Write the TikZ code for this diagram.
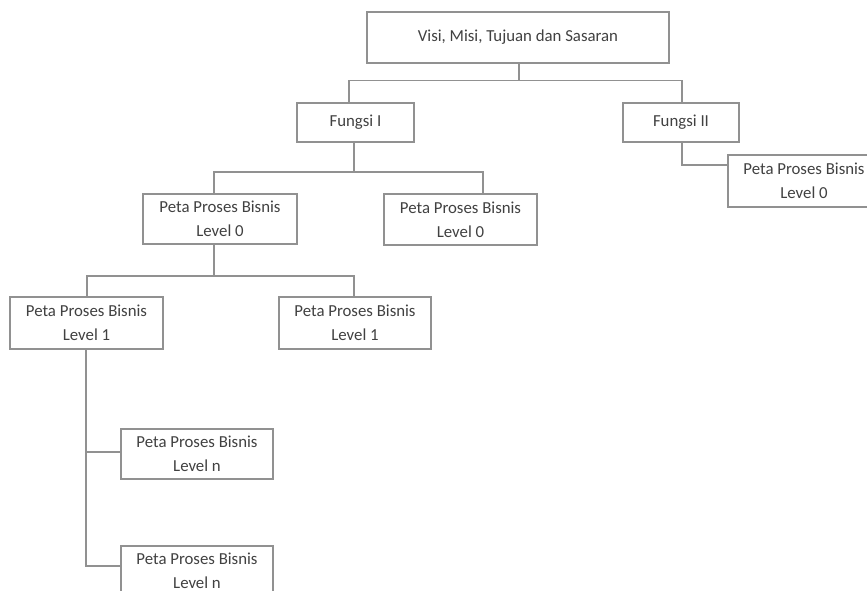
\documentclass[tikz,border=0pt]{standalone}
\usepackage{fontspec}
\setmainfont{Carlito}
\definecolor{linegray}{RGB}{145,145,145}
\definecolor{textgray}{RGB}{65,65,65}
\begin{document}
\begin{tikzpicture}[x=1pt,y=-1pt,
  box/.style={draw=linegray,line width=1.3pt,fill=white,inner sep=0pt,
    align=center,text=textgray,font=\fontsize{16.8}{24}\selectfont},
  link/.style={draw=linegray,line width=1.3pt}]
\useasboundingbox (0,0) rectangle (867,591);
\clip (0,0) rectangle (867,591);
\fill[white] (0,0) rectangle (867,591);

% boxes
\node[box,minimum width=302pt,minimum height=51pt] (top) at (518,37.5) {Visi, Misi, Tujuan dan Sasaran};
\node[box,minimum width=117pt,minimum height=39pt] (f1) at (355.5,122.5) {Fungsi I};
\node[box,minimum width=116pt,minimum height=39pt] (f2) at (681,122.5) {Fungsi II};
\node[box,minimum width=152pt,minimum height=52pt] (p0r) at (804,181) {Peta Proses Bisnis\\Level 0};
\node[box,minimum width=154pt,minimum height=50pt] (p0a) at (220,219) {Peta Proses Bisnis\\Level 0};
\node[box,minimum width=153pt,minimum height=51pt] (p0b) at (460.5,219.5) {Peta Proses Bisnis\\Level 0};
\node[box,minimum width=153pt,minimum height=52pt] (p1a) at (86.5,323) {Peta Proses Bisnis\\Level 1};
\node[box,minimum width=152pt,minimum height=52pt] (p1b) at (355,323) {Peta Proses Bisnis\\Level 1};
\node[box,minimum width=152pt,minimum height=50pt] (pn1) at (197,454) {Peta Proses Bisnis\\Level n};
\node[box,minimum width=152pt,minimum height=50pt] (pn2) at (197,571) {Peta Proses Bisnis\\Level n};

% connectors
\coordinate (busA) at (0,80.5);
\draw[link] (top.south -| 519,0) -- (busA -| 519,0);
\draw[link] (f1.north -| 349,0) |- (busA -| 519,0) -| ([xshift=1pt]f2.north);
\draw[link] ([xshift=1pt]f2.south) |- (p0r.west |- 0,165);

\coordinate (busB) at (0,172);
\draw[link] (f1.south -| 354,0) |- (busB -| 214,0) -- (p0a.north -| 214,0);
\draw[link] (busB -| 354,0) -- (busB -| 483,0) -- (p0b.north -| 483,0);

\coordinate (busC) at (0,276);
\draw[link] (p0a.south -| 214,0) -- (busC -| 214,0);
\draw[link] (p1a.north -| 87,0) |- (busC -| 354,0) -- (p1b.north -| 354,0);

\draw[link] (p1a.south -| 86,0) -- (86,566) -- (pn2.west |- 0,566);
\draw[link] (86,452) -- (pn1.west |- 0,452);
\end{tikzpicture}
\end{document}
